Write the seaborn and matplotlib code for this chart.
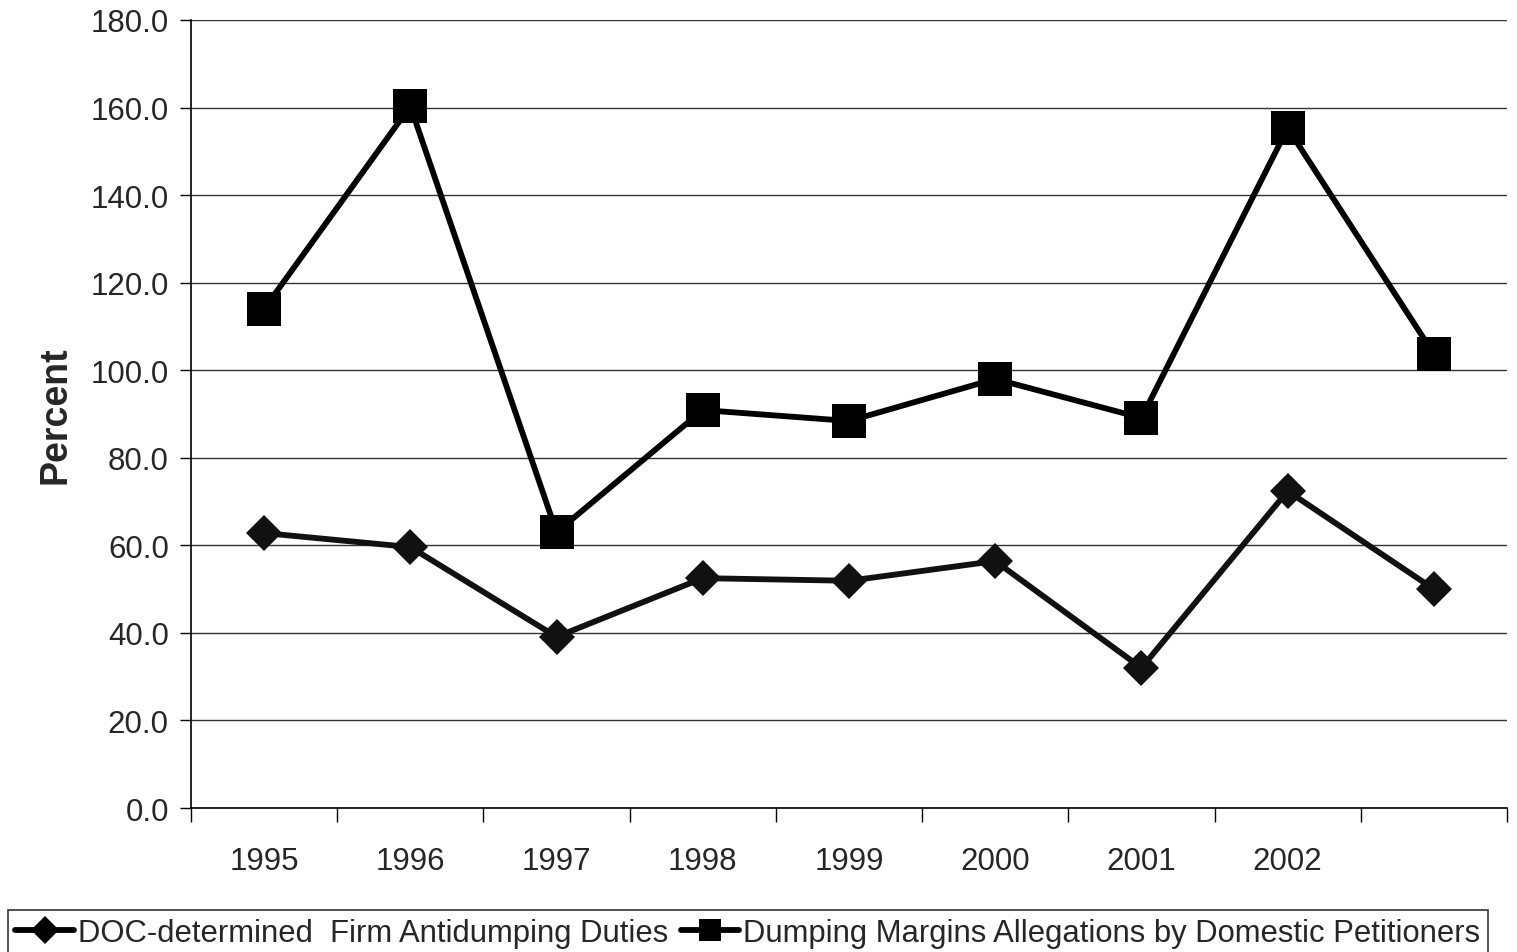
import matplotlib
matplotlib.use('Agg')
import matplotlib.pyplot as plt
from matplotlib.ticker import FixedLocator, FormatStrFormatter
import numpy as np
import pandas as pd
import seaborn as sns

# data
years = [1995, 1996, 1997, 1998, 1999, 2000, 2001, 2002, 2003]
year_labels = ['1995', '1996', '1997', '1998', '1999', '2000', '2001', '2002', '']
doc_duties = [62.8, 59.6, 39.1, 52.5, 51.9, 56.4, 32.0, 72.4, 50.0]
petition_margins = [114.0, 160.3, 63.0, 90.9, 88.4, 98.0, 89.1, 155.3, 103.7]

name_doc = 'DOC-determined  Firm Antidumping Duties'
name_pet = 'Dumping Margins Allegations by Domestic Petitioners'

df = pd.DataFrame({
    'Year': years * 2,
    'Percent': doc_duties + petition_margins,
    'Series': [name_doc] * len(years) + [name_pet] * len(years),
})

sns.set_theme(style='white')
plt.rcParams['font.family'] = ['Liberation Sans', 'DejaVu Sans']

fig = plt.figure(figsize=(15.17, 9.53), dpi=100)
ax = fig.add_axes([0.1259, 0.1511, 0.8675, 0.8269])

sns.lineplot(data=df, x='Year', y='Percent', hue='Series', style='Series',
             markers={name_doc: 'D', name_pet: 's'}, dashes=False,
             palette={name_doc: '#111111', name_pet: 'black'},
             linewidth=4.2, ax=ax, legend=False)
for line, ms in zip(ax.lines, [18.5, 24]):
    line.set_markersize(ms)
    line.set_markeredgewidth(0)

ax.set_ylim(0, 180)
ax.set_xlim(years[0] - 0.5, years[-1] + 0.5)
ax.yaxis.set_major_locator(FixedLocator(np.arange(0, 181, 20)))
ax.yaxis.set_major_formatter(FormatStrFormatter('%.1f'))
ax.yaxis.grid(True, color='#333333', linewidth=1.0)
ax.set_axisbelow(True)

# ticks at category boundaries, labels at centres
bounds = np.arange(years[0] - 0.5, years[-1] + 1.0, 1.0)
ax.xaxis.set_major_locator(FixedLocator(bounds))
ax.set_xticklabels([])
ax.xaxis.set_minor_locator(FixedLocator(years))
ax.set_xticklabels(year_labels, minor=True)
ax.tick_params(axis='x', which='major', length=10, width=1, color='black', direction='out', bottom=True)
ax.tick_params(axis='x', which='minor', length=0, pad=27, labelsize=22.5)
ax.tick_params(axis='y', length=8, width=1, color='black', direction='out', left=True, pad=8, labelsize=22.5)

for s in ['top', 'right']:
    ax.spines[s].set_visible(False)
for s in ['left', 'bottom']:
    ax.spines[s].set_color('black')
    ax.spines[s].set_linewidth(1.2)

ax.set_xlabel('')
ax.set_ylabel('Percent', fontsize=27, fontweight='bold', labelpad=12)

handles = [plt.Line2D([], [], color='black', lw=4.2, marker='D', ms=14, mew=0),
           plt.Line2D([], [], color='black', lw=4.2, marker='s', ms=16, mew=0)]
leg = fig.legend(handles, [name_doc, name_pet], loc='lower left', bbox_to_anchor=(0.005, -0.004),
                 ncol=2, fontsize=22.3, frameon=True, fancybox=False, edgecolor='black',
                 handlelength=1.9, handletextpad=0.12, columnspacing=0.4, borderpad=0.25,
                 borderaxespad=0)
leg.get_frame().set_linewidth(1.2)

fig.savefig('out.png', dpi=100)
